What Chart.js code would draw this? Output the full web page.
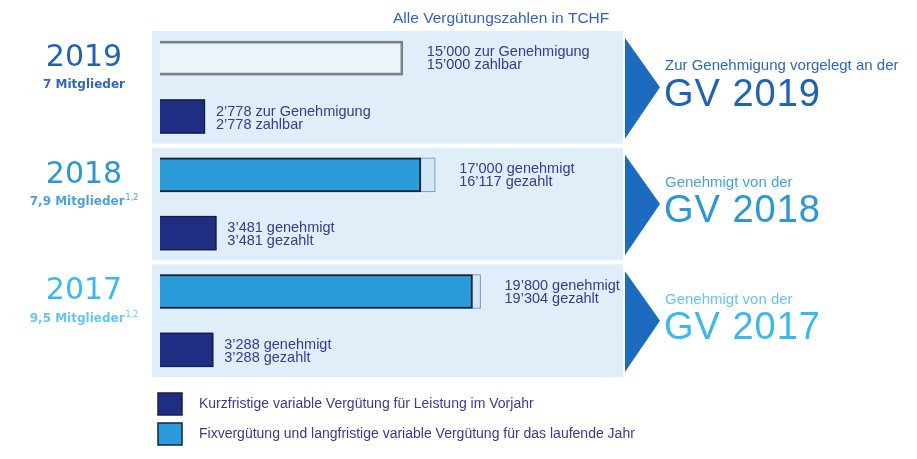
<!DOCTYPE html>
<html>
<head>
<meta charset="utf-8">
<script src="https://cdn.jsdelivr.net/npm/chart.js@4"></script>
<style>
  html, body { margin: 0; padding: 0; background: #ffffff; }
  #wrap { position: relative; width: 917px; height: 459px; }
</style>
</head>
<body>
<div id="wrap"><canvas id="chart" width="917" height="459"></canvas></div>
<script>
// Werte in TCHF
const years = ['2019', '2018', '2017'];
const members = ['7 Mitglieder', '7,9 Mitglieder', '9,5 Mitglieder'];
const memberNotes = ['', '1,2', '1,2'];
const status = ['vorgelegt', 'genehmigt', 'genehmigt'];
const fixApproved = [15000, 17000, 19800];
const fixPaid = [15000, 16117, 19304];
const stiApproved = [2778, 3481, 3288];
const stiPaid = [2778, 3481, 3288];
const gvIntro = ['Zur Genehmigung vorgelegt an der', 'Genehmigt von der', 'Genehmigt von der'];
const gvTitles = ['GV 2019', 'GV 2018', 'GV 2017'];
const legendLabels = [
  'Kurzfristige variable Vergütung für Leistung im Vorjahr',
  'Fixvergütung und langfristige variable Vergütung für das laufende Jahr'
];
const title = 'Alle Vergütungszahlen in TCHF';

// farben je Jahr (2019 dunkel -> 2017 hell)
const yearColors = ['#1f62b6', '#2b97d6', '#3cb9ea'];
const subColors = ['#3166ba', '#4ba2da', '#66c5ee'];
const NAVY = '#1f2d82';
const FIX = '#2b9cd9';
const TEXT = '#3e3890';

// zeilen: je Jahr eine Fix-Zeile und eine Kurzfristig-Zeile
const rows = years.flatMap(y => [y + ' Fix', y + ' Kurz']);
const fixRow = years.flatMap((y, i) => [fixPaid[i], null]);
const stiRow = years.flatMap((y, i) => [null, stiPaid[i]]);
const approvedRow = years.flatMap((y, i) => [fixApproved[i], stiApproved[i]]);

function fmt(v) {
  return String(v).replace(/\B(?=(\d{3})+(?!\d))/g, '\u2019');
}

const panelsPlugin = {
  id: 'panels',
  beforeDatasetsDraw(chart) {
    const { ctx, chartArea, scales } = chart;
    const y = scales.y;
    const half = (y.getPixelForValue(1) - y.getPixelForValue(0)) / 2;
    ctx.save();
    years.forEach((yr, i) => {
      const top = y.getPixelForValue(i * 2) - half + 2;
      const bottom = y.getPixelForValue(i * 2 + 1) + half - 2;
      const left = chartArea.left - 8;
      const right = chartArea.right;
      ctx.fillStyle = '#dfeef9';
      ctx.fillRect(left, top, right - left, bottom - top);
      // pfeil
      ctx.fillStyle = '#1d6bbf';
      ctx.beginPath();
      ctx.moveTo(right + 2, top + 7);
      ctx.lineTo(right + 37, (top + bottom) / 2);
      ctx.lineTo(right + 2, bottom - 5);
      ctx.closePath();
      ctx.fill();
    });
    ctx.restore();
  },
  afterDatasetsDraw(chart) {
    const { ctx, chartArea, scales } = chart;
    const x = scales.x, y = scales.y;
    ctx.save();
    ctx.textBaseline = 'middle';

    // titel
    ctx.font = '15.5px "Liberation Sans", Arial, sans-serif';
    ctx.fillStyle = '#3561c0';
    ctx.textAlign = 'left';
    ctx.fillText(title, 393, 19);

    years.forEach((yr, i) => {
      const yFix = y.getPixelForValue(i * 2);
      const ySti = y.getPixelForValue(i * 2 + 1);
      const proposed = status[i] === 'vorgelegt';
      const w1 = proposed ? 'zur Genehmigung' : 'genehmigt';
      const w2 = proposed ? 'zahlbar' : 'gezahlt';

      // werte-beschriftung
      ctx.font = '14.5px "Liberation Sans", Arial, sans-serif';
      ctx.fillStyle = TEXT;
      ctx.textAlign = 'left';
      const xf = x.getPixelForValue(Math.max(fixApproved[i], fixPaid[i])) + 24;
      ctx.fillText(fmt(fixApproved[i]) + ' ' + w1, xf, yFix - 6);
      ctx.fillText(fmt(fixPaid[i]) + ' ' + w2, xf, yFix + 7);
      const xs = x.getPixelForValue(Math.max(stiApproved[i], stiPaid[i])) + 11;
      ctx.fillText(fmt(stiApproved[i]) + ' ' + w1, xs, ySti - 5);
      ctx.fillText(fmt(stiPaid[i]) + ' ' + w2, xs, ySti + 8);

      // jahr links
      ctx.textAlign = 'center';
      ctx.font = '30px "DejaVu Sans", Verdana, sans-serif';
      ctx.fillStyle = yearColors[i];
      ctx.fillText(yr, 84, yFix);
      ctx.font = 'bold 12px "DejaVu Sans", Verdana, sans-serif';
      const mw = ctx.measureText(members[i]).width;
      ctx.font = '8px "DejaVu Sans", Verdana, sans-serif';
      const nw = memberNotes[i] ? ctx.measureText(memberNotes[i]).width + 1 : 0;
      const mx = 84 - (mw + nw) / 2;
      ctx.textAlign = 'left';
      ctx.font = 'bold 12px "DejaVu Sans", Verdana, sans-serif';
      ctx.fillStyle = subColors[i];
      ctx.fillText(members[i], mx, yFix + 27);
      if (memberNotes[i]) {
        ctx.font = '8px "DejaVu Sans", Verdana, sans-serif';
        ctx.fillText(memberNotes[i], mx + mw + 1, yFix + 23);
      }

      // GV rechts
      const mid = (yFix + ySti) / 2;
      ctx.fillStyle = subColors[i];
      ctx.font = '15px "Liberation Sans", Arial, sans-serif';
      ctx.fillText(gvIntro[i], chartArea.right + 42, mid - 21);
      ctx.fillStyle = yearColors[i];
      ctx.font = '38px "Liberation Sans", Arial, sans-serif';
      ctx.letterSpacing = '1px';
      ctx.fillText(gvTitles[i], chartArea.right + 41, mid + 8);
      ctx.letterSpacing = '0px';
    });

    // legende
    const lx = chartArea.left - 2;
    const items = [
      { label: legendLabels[0], color: NAVY },
      { label: legendLabels[1], color: FIX }
    ];
    items.forEach((it, k) => {
      const ly = chartArea.bottom + 14 + k * 30;
      ctx.fillStyle = it.color;
      ctx.fillRect(lx, ly, 24, 22);
      ctx.strokeStyle = '#1a2040';
      ctx.lineWidth = 1.5;
      ctx.strokeRect(lx, ly, 24, 22);
      ctx.fillStyle = TEXT;
      ctx.font = '14px "Liberation Sans", Arial, sans-serif';
      ctx.textAlign = 'left';
      ctx.fillText(it.label, lx + 41, ly + 11);
    });
    ctx.restore();
  }
};

const rowYear = idx => Math.floor(idx / 2);

new Chart(document.getElementById('chart'), {
  type: 'bar',
  data: {
    labels: rows,
    datasets: [
      {
        label: legendLabels[1],
        data: fixRow,
        order: 0,
        backgroundColor: c => status[rowYear(c.dataIndex)] === 'vorgelegt' ? 'rgba(0,0,0,0)' : FIX,
        borderColor: c => status[rowYear(c.dataIndex)] === 'vorgelegt' ? '#7d8288' : '#1a2238',
        borderWidth: 2
      },
      {
        label: legendLabels[0],
        data: stiRow,
        order: 0,
        backgroundColor: NAVY,
        borderColor: '#141c4a',
        borderWidth: 1.5
      },
      {
        label: 'genehmigt',
        data: approvedRow,
        order: 1,
        backgroundColor: c => c.dataIndex % 2 ? NAVY
          : (status[rowYear(c.dataIndex)] === 'vorgelegt' ? '#edf5fb' : '#d3e8f7'),
        borderColor: c => c.dataIndex % 2 ? '#141c4a'
          : (status[rowYear(c.dataIndex)] === 'vorgelegt' ? '#7d8288' : '#7083bd'),
        borderWidth: c => c.dataIndex % 2 ? 1.5
          : (status[rowYear(c.dataIndex)] === 'vorgelegt' ? 2 : 1)
      }
    ]
  },
  options: {
    indexAxis: 'y',
    responsive: false,
    animation: false,
    maintainAspectRatio: false,
    layout: { padding: { left: 160, right: 294, top: 29, bottom: 80 } },
    datasets: { bar: { grouped: false, barThickness: 34 } },
    plugins: {
      legend: { display: false },
      tooltip: { enabled: false },
      title: { display: false }
    },
    scales: {
      x: { display: false, min: 0, max: 28600, grid: { display: false } },
      y: { display: false, grid: { display: false } }
    }
  },
  plugins: [panelsPlugin]
});
</script>
</body>
</html>
